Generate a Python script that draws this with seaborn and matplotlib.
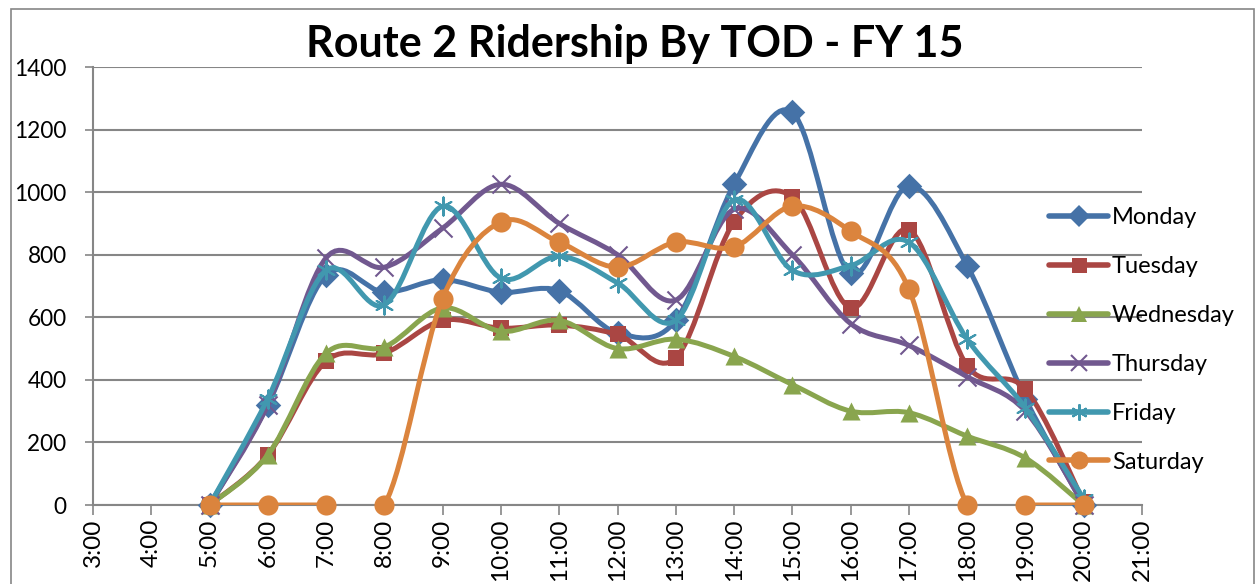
import numpy as np
import pandas as pd
import seaborn as sns
import matplotlib.pyplot as plt
from matplotlib.path import Path
from matplotlib.patches import PathPatch, Rectangle
from matplotlib.lines import Line2D

sns.set_style("white")
plt.rcParams['font.family'] = ['Lato', 'DejaVu Sans']
plt.rcParams['text.color'] = 'black'
plt.rcParams['xtick.labelcolor'] = 'black'
plt.rcParams['ytick.labelcolor'] = 'black'

# hour of day for each observation
hours = [5, 6, 7, 8, 9, 10, 11, 12, 13, 14, 15, 16, 17, 18, 19, 20]

monday = [0, 320, 735, 680, 720, 680, 685, 550, 590, 1025, 1255, 740, 1020, 765, 340, 0]
tuesday = [0, 160, 460, 485, 590, 565, 575, 545, 470, 905, 985, 630, 880, 445, 370, 10]
wednesday = [0, 160, 485, 505, 630, 555, 590, 500, 530, 475, 385, 300, 295, 220, 150, 0]
thursday = [0, 320, 790, 760, 885, 1025, 900, 800, 655, 945, 800, 580, 510, 410, 300, 0]
friday = [0, 340, 750, 640, 955, 725, 795, 710, 590, 975, 750, 765, 840, 530, 310, 20]
saturday = [0, 0, 0, 0, 660, 905, 840, 760, 840, 825, 955, 875, 690, 0, 0, 0]

days = ["Monday", "Tuesday", "Wednesday", "Thursday", "Friday", "Saturday"]
series = [monday, tuesday, wednesday, thursday, friday, saturday]

tick_hours = list(range(3, 22))
tick_labels = [f"{h}:00" for h in tick_hours]

colors = ["#4572A7", "#AA4643", "#89A54E", "#71588F", "#4198AF", "#DB843D"]
markers = ["D", "s", "^", "x", (6, 2, 0), "o"]
msizes = [13, 12, 13, 13, 13, 14.5]


def smooth_path(xs, ys):
    # excel style smoothed line: bezier segments, catmull-rom control points
    pts = np.column_stack([xs, ys]).astype(float)
    n = len(pts)
    verts = [pts[0]]
    codes = [Path.MOVETO]
    for i in range(n - 1):
        p_prev = pts[i - 1] if i > 0 else pts[i]
        p_next2 = pts[i + 2] if i + 2 < n else pts[i + 1]
        c1 = pts[i] + (pts[i + 1] - p_prev) / 6.0
        c2 = pts[i + 1] - (p_next2 - pts[i]) / 6.0
        verts += [c1, c2, pts[i + 1]]
        codes += [Path.CURVE4] * 3
    return Path(verts, codes)


fig = plt.figure(figsize=(12.59, 5.84), dpi=100)
ax = fig.add_axes([93 / 1259, 1 - 505 / 584, (1142 - 93) / 1259, (505 - 67) / 584])

handles = []
for k, (day, vals) in enumerate(zip(days, series)):
    df = pd.DataFrame({"hour": hours, "riders": vals})
    patch = PathPatch(smooth_path(df["hour"], df["riders"]), facecolor="none",
                      edgecolor=colors[k], lw=3.6, zorder=3 + 2 * k,
                      capstyle="round", joinstyle="round")
    ax.add_patch(patch)
    filled = markers[k] not in ("x",) and not isinstance(markers[k], tuple)
    if filled:
        sns.scatterplot(data=df, x="hour", y="riders", marker=markers[k],
                        s=msizes[k] ** 2, color=colors[k], edgecolor=colors[k],
                        linewidth=0, ax=ax, zorder=4 + 2 * k, clip_on=False)
    else:
        sns.scatterplot(data=df, x="hour", y="riders", marker=markers[k],
                        s=msizes[k] ** 2, color=colors[k],
                        linewidth=1.5, ax=ax, zorder=4 + 2 * k, clip_on=False)
    handles.append(Line2D([], [], color=colors[k], lw=4, marker=markers[k],
                          markersize=msizes[k] * 0.9, markeredgewidth=1.5 if not filled else 0,
                          markerfacecolor=colors[k], markeredgecolor=colors[k]))

ax.set_xlim(3, 21)
ax.set_ylim(0, 1400)
ax.set_xticks(tick_hours)
ax.set_xticklabels(tick_labels, rotation=90, fontsize=17.5)
ax.set_yticks(range(0, 1401, 200))
ax.tick_params(axis="y", labelsize=16.3, length=6, width=1.2, color="#868686",
               direction="out", left=True, pad=13)
ax.tick_params(axis="x", length=7, width=1.2, color="#868686", direction="out", bottom=True, pad=3)
ax.set_xlabel("")
ax.set_ylabel("")
ax.yaxis.grid(True, color="#868686", lw=1.5)
ax.set_axisbelow(True)
for side in ["top", "right"]:
    ax.spines[side].set_visible(False)
for side in ["left", "bottom"]:
    ax.spines[side].set_color("#868686")
    ax.spines[side].set_linewidth(1.5)

fig.text(0.504, 1 - 44 / 584, "Route 2 Ridership By TOD - FY 15", ha="center", va="center",
         fontsize=31, fontweight="bold", color="black")

fig.legend(handles, days, loc="center left", bbox_to_anchor=(1040 / 1259, 1 - 340 / 584),
           frameon=False, fontsize=17, handlelength=2.5, labelspacing=1.18, handletextpad=0.15,
           borderaxespad=0)

fig.add_artist(Rectangle((11 / 1259, -0.1), (1254 - 11) / 1259, 1.1 - 9 / 584,
                         transform=fig.transFigure, fill=False, edgecolor="#868686", lw=1.2))

fig.savefig("out.png", dpi=100)
